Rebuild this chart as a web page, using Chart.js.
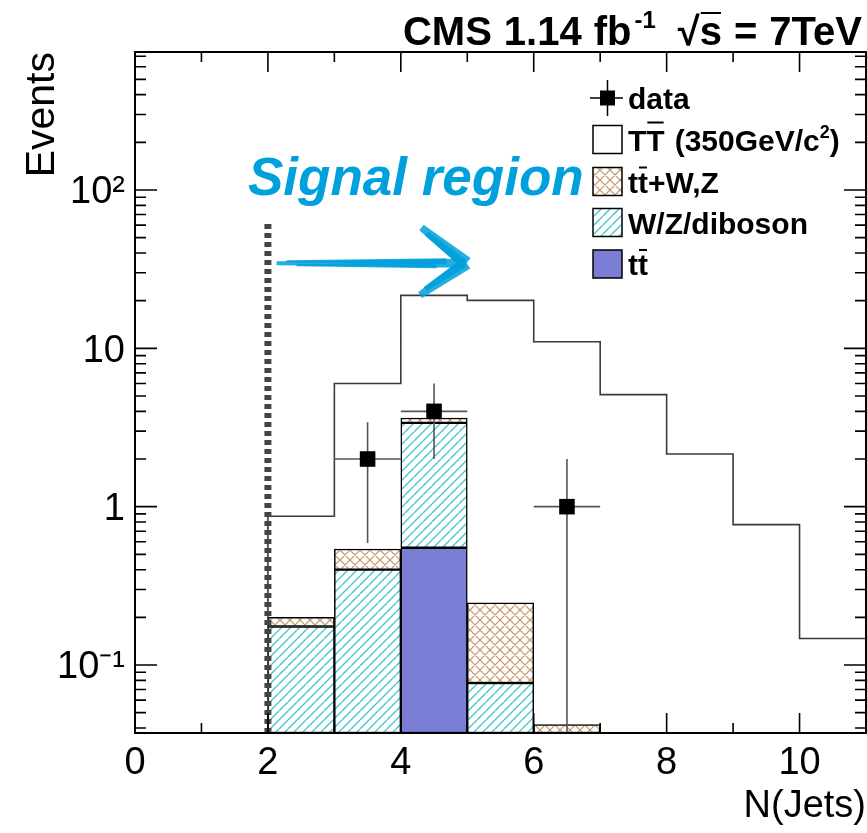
<!DOCTYPE html>
<html><head><meta charset="utf-8">
<script src="https://cdn.jsdelivr.net/npm/chart.js@4.4.1/dist/chart.umd.min.js"></script>
<style>html,body{margin:0;padding:0;background:#fff;}canvas{display:block;}</style>
</head><body>
<canvas id="c" width="867" height="833"></canvas>
<script>
// ---------- data ----------
const binCenters   = [2.5, 3.5, 4.5, 5.5, 6.5];
const ttbar        = [0, 0, 0.55, 0, 0];
const wzDiboson    = [0.175, 0.40, 2.83, 0.077, 0];
const ttWZ         = [0.025, 0.14, 0.25, 0.17, 0.042];
const signalEdges  = [2, 3, 4, 5, 6, 7, 8, 9, 10, 11];
const signalValues = [0.87, 6.0, 21.6, 20.1, 11.0, 5.1, 2.15, 0.77, 0.147];
const dataX        = [3.5, 4.5, 6.5];
const dataY        = [2, 4, 1];
const dataErrLow   = [1.41, 2, 1];
const dataErrHigh  = [1.41, 2, 1];
const binHalfWidth = 0.5;
const cutX = 2, cutTop = 63;
const xTicks = [0, 2, 4, 6, 8, 10];
const yTicks = [0.1, 1, 10, 100];
const yTickLabels = ['10\u207B\u00B9', '1', '10', '10\u00B2'];
const Y_MIN = 0.0372, Y_MAX = 744, X_MIN = 0, X_MAX = 11;
const arrowTail = [2.13, 34.5], arrowTip = [4.99, 34.5], arrowArmUp = [4.31, 58], arrowArmDown = [4.29, 21.7];
const signalTextPos = [1.70, 93];

const FONT = '"Liberation Sans", Arial, Helvetica, sans-serif';
const CYAN = 'rgb(0,160,220)';

const canvas = document.getElementById('c');
const ctxMain = canvas.getContext('2d');

function makePattern(color, size, lw, dirs) {
  const t = document.createElement('canvas');
  t.width = size; t.height = size;
  const c = t.getContext('2d');
  c.fillStyle = '#fff'; c.fillRect(0, 0, size, size);
  c.strokeStyle = color; c.lineWidth = lw;
  c.beginPath();
  for (const x0 of [-size, 0, size]) {
    if (dirs.includes('/')) { c.moveTo(x0, size); c.lineTo(x0 + size, 0); }
    if (dirs.includes('\\')) { c.moveTo(x0, 0); c.lineTo(x0 + size, size); }
  }
  c.stroke();
  return ctxMain.createPattern(t, 'repeat');
}
const cyanHatch = makePattern('rgb(70,198,202)', 9, 1.4, ['/']);
const brownCross = makePattern('rgb(196,148,98)', 10, 1.2, ['/', '\\']);
const TTBAR_COLOR = 'rgb(122,125,212)';

const pts = (arr) => binCenters.map((x, i) => ({x, y: arr[i] > 0 ? arr[i] : null}));
const signalPts = [{x: signalEdges[0], y: Y_MIN}].concat(
  signalEdges.map((x, i) => ({x, y: signalValues[Math.min(i, signalValues.length - 1)]})));
const errPts = [];
dataX.forEach((x, i) => {
  const lo = Math.max(dataY[i] - dataErrLow[i], Y_MIN);
  const hi = dataY[i] + dataErrHigh[i];
  errPts.push({x, y: lo}, {x, y: hi}, {x, y: null});
  errPts.push({x: x - binHalfWidth, y: dataY[i]}, {x: x + binHalfWidth, y: dataY[i]}, {x: x + binHalfWidth, y: null});
});
const dataPts = dataX.map((x, i) => ({x, y: dataY[i]}));

const barCommon = {type: 'bar', borderColor: '#000', borderWidth: 1.5, borderSkipped: false,
  barPercentage: 1, categoryPercentage: 1, stack: 'bkg', order: 10};

function pieceWidth(ctx, p, size, weight) {
  if (p.gap) return p.gap;
  const fs = p.sup ? Math.round(size * 0.6) : size;
  ctx.font = `${weight} ${fs}px ${FONT}`;
  return ctx.measureText(p.t).width;
}
function drawPieces(ctx, x, base, pieces, size, weight) {
  let cx = x;
  for (const p of pieces) {
    const w = pieceWidth(ctx, p, size, weight);
    if (!p.gap) {
      const yy = p.sup ? base - size * 0.42 : base;
      ctx.fillText(p.t, cx, yy);
      if (p.bar) {
        ctx.save(); ctx.lineWidth = 2; ctx.strokeStyle = ctx.fillStyle;
        ctx.beginPath(); ctx.moveTo(cx + 1, base - p.bar); ctx.lineTo(cx + w - 1, base - p.bar); ctx.stroke();
        ctx.restore();
      }
    }
    cx += w;
  }
  return cx - x;
}
function measurePieces(ctx, pieces, size, weight) {
  return pieces.reduce((s, p) => s + pieceWidth(ctx, p, size, weight), 0);
}
function taper(ctx, x1, y1, w1, x2, y2, w2) {
  const dx = x2 - x1, dy = y2 - y1, L = Math.hypot(dx, dy);
  const nx = -dy / L, ny = dx / L;
  ctx.beginPath();
  ctx.moveTo(x1 + nx * w1 / 2, y1 + ny * w1 / 2);
  ctx.lineTo(x2 + nx * w2 / 2, y2 + ny * w2 / 2);
  ctx.lineTo(x2 - nx * w2 / 2, y2 - ny * w2 / 2);
  ctx.lineTo(x1 - nx * w1 / 2, y1 - ny * w1 / 2);
  ctx.closePath(); ctx.fill();
}

const overlay = {
  id: 'overlay',
  afterDatasetsDraw(chart) {
    const {ctx, chartArea: a, scales: {x, y}} = chart;
    ctx.save();
    // ticks (inside, all four sides)
    ctx.strokeStyle = '#000'; ctx.lineWidth = 1.6;
    ctx.beginPath();
    for (let v = X_MIN; v <= X_MAX; v++) {
      const px = x.getPixelForValue(v), L = v % 2 === 0 ? 20 : 10;
      ctx.moveTo(px, a.bottom); ctx.lineTo(px, a.bottom - L);
      ctx.moveTo(px, a.top); ctx.lineTo(px, a.top + L);
    }
    for (let k = -2; k <= 3; k++) for (let m = 1; m <= 9; m++) {
      const v = m * Math.pow(10, k);
      if (v < Y_MIN || v > Y_MAX) continue;
      const py = y.getPixelForValue(v), L = m === 1 ? 22 : 11;
      ctx.moveTo(a.left, py); ctx.lineTo(a.left + L, py);
      ctx.moveTo(a.right, py); ctx.lineTo(a.right - L, py);
    }
    ctx.stroke();
    ctx.lineWidth = 2;
    ctx.strokeRect(a.left, a.top, a.right - a.left, a.bottom - a.top);

    // header
    ctx.fillStyle = '#000'; ctx.textBaseline = 'alphabetic'; ctx.textAlign = 'left';
    const head = [{t: 'CMS'}, {gap: 12}, {t: '1.14'}, {gap: 12}, {t: 'fb'}, {gap: 3}, {t: '-1', sup: true},
                  {gap: 22}, {t: '\u221A'}, {t: 's', bar: 32}, {gap: 12}, {t: '='}, {gap: 12}, {t: '7TeV'}];
    const hw = measurePieces(ctx, head, 40, 'bold');
    drawPieces(ctx, 862 - hw, 45, head, 40, 'bold');

    // legend
    const lx = 593, bw = 29, bh = 28, tx = 628, rows = [98, 139.5, 181.5, 222.5, 264];
    ctx.strokeStyle = '#000'; ctx.lineWidth = 1.5;
    ctx.beginPath();
    ctx.moveTo(lx - 3, rows[0]); ctx.lineTo(lx + bw + 1, rows[0]);
    ctx.moveTo(lx + bw / 2, rows[0] - 18); ctx.lineTo(lx + bw / 2, rows[0] + 18);
    ctx.stroke();
    ctx.fillRect(lx + bw / 2 - 7.5, rows[0] - 7.5, 15, 15);
    const boxes = [null, '#fff', brownCross, cyanHatch, TTBAR_COLOR];
    for (let i = 1; i < 5; i++) {
      const top = rows[i] - bh / 2;
      ctx.fillStyle = boxes[i]; ctx.fillRect(lx, top, bw, bh);
      ctx.strokeStyle = '#000'; ctx.lineWidth = 1.5; ctx.strokeRect(lx, top, bw, bh);
    }
    ctx.fillStyle = '#000';
    const L = 30;
    const labels = [
      [{t: 'data'}],
      [{t: 'T'}, {t: 'T', bar: 28}, {gap: 10}, {t: '(350GeV/c'}, {t: '2', sup: true}, {t: ')'}],
      [{t: 't'}, {t: 't', bar: 25}, {t: '+W,Z'}],
      [{t: 'W/Z/diboson'}],
      [{t: 't'}, {t: 't', bar: 25}]
    ];
    labels.forEach((p, i) => drawPieces(ctx, tx, rows[i] + 11, p, L, 'bold'));

    // signal region annotation
    ctx.fillStyle = CYAN;
    ctx.font = `italic bold 53px ${FONT}`;
    ctx.fillText('Signal region', x.getPixelForValue(signalTextPos[0]), y.getPixelForValue(signalTextPos[1]));
    const tX = x.getPixelForValue(arrowTail[0]), tY = y.getPixelForValue(arrowTail[1]);
    const hX = x.getPixelForValue(arrowTip[0]), hY = y.getPixelForValue(arrowTip[1]);
    const uX = x.getPixelForValue(arrowArmUp[0]), uY = y.getPixelForValue(arrowArmUp[1]);
    const dX = x.getPixelForValue(arrowArmDown[0]), dY = y.getPixelForValue(arrowArmDown[1]);
    ctx.globalAlpha = 0.85;
    taper(ctx, tX, tY, 4, hX - 8, hY, 9);
    taper(ctx, tX + 10, tY - 2, 2, hX - 20, hY - 2, 6);
    taper(ctx, tX + 20, tY + 2, 2, hX - 30, hY + 2, 6);
    taper(ctx, uX, uY, 7, hX, hY, 13);
    taper(ctx, uX + 5, uY + 6, 5, hX - 3, hY, 9);
    taper(ctx, dX, dY, 7, hX, hY, 13);
    taper(ctx, dX + 5, dY - 6, 5, hX - 3, hY, 9);
    ctx.restore();
  }
};

new Chart(ctxMain, {
  data: {
    datasets: [
      Object.assign({}, barCommon, {label: 'tt', data: pts(ttbar), backgroundColor: TTBAR_COLOR}),
      Object.assign({}, barCommon, {label: 'W/Z/diboson', data: pts(wzDiboson), backgroundColor: cyanHatch}),
      Object.assign({}, barCommon, {label: 'tt+W,Z', data: pts(ttWZ), backgroundColor: brownCross}),
      {type: 'line', label: 'TT (350GeV/c2)', data: signalPts, stepped: 'before', borderColor: '#3a3a3a',
       borderWidth: 1.6, pointRadius: 0, fill: false, stack: 's1', order: 4},
      {type: 'line', label: 'cut', data: [{x: cutX, y: Y_MIN}, {x: cutX, y: cutTop}], borderColor: '#444',
       borderWidth: 7, borderDash: [5, 4], borderCapStyle: 'butt', pointRadius: 0, fill: false, stack: 's2', order: 3},
      {type: 'line', label: 'err', data: errPts, borderColor: '#555', borderWidth: 1.6, pointRadius: 0,
       spanGaps: false, fill: false, stack: 's3', order: 2},
      {type: 'line', label: 'data', data: dataPts, showLine: false, pointStyle: 'rect', pointRadius: 11,
       pointBackgroundColor: '#000', pointBorderWidth: 0, stack: 's4', order: 1}
    ]
  },
  options: {
    responsive: false, animation: false, devicePixelRatio: 1,
    layout: {padding: {top: 52, right: 1, left: 0, bottom: 0}, autoPadding: false},
    plugins: {legend: {display: false}, tooltip: {enabled: false}, title: {display: false}},
    scales: {
      x: {type: 'linear', min: X_MIN, max: X_MAX, stacked: true, offset: false,
        afterBuildTicks: s => { s.ticks = xTicks.map(v => ({value: v})); },
        afterFit: s => { s.height = 100; s.paddingLeft = 0; s.paddingRight = 0; },
        grid: {display: false, drawTicks: false, offset: false}, border: {display: false},
        ticks: {font: {family: FONT, size: 38}, color: '#000', padding: 8, maxRotation: 0, autoSkip: false},
        title: {display: true, text: 'N(Jets)', align: 'end', color: '#000',
          font: {family: FONT, size: 38}, padding: {top: 0, bottom: 4}}},
      y: {type: 'logarithmic', min: Y_MIN, max: Y_MAX, stacked: true,
        afterBuildTicks: s => { s.ticks = yTicks.map(v => ({value: v, major: true})); },
        afterFit: s => { s.width = 135; s.paddingTop = 0; s.paddingBottom = 0; },
        grid: {display: false, drawTicks: false}, border: {display: false},
        ticks: {callback: (v, i) => yTickLabels[i], font: {family: FONT, size: 38}, color: '#000',
          padding: 10, labelOffset: 3, autoSkip: false},
        title: {display: true, text: 'Events', align: 'end', color: '#000',
          font: {family: FONT, size: 41}, padding: {top: 18, bottom: 0}}}
    }
  },
  plugins: [overlay]
});
</script>
</body></html>
